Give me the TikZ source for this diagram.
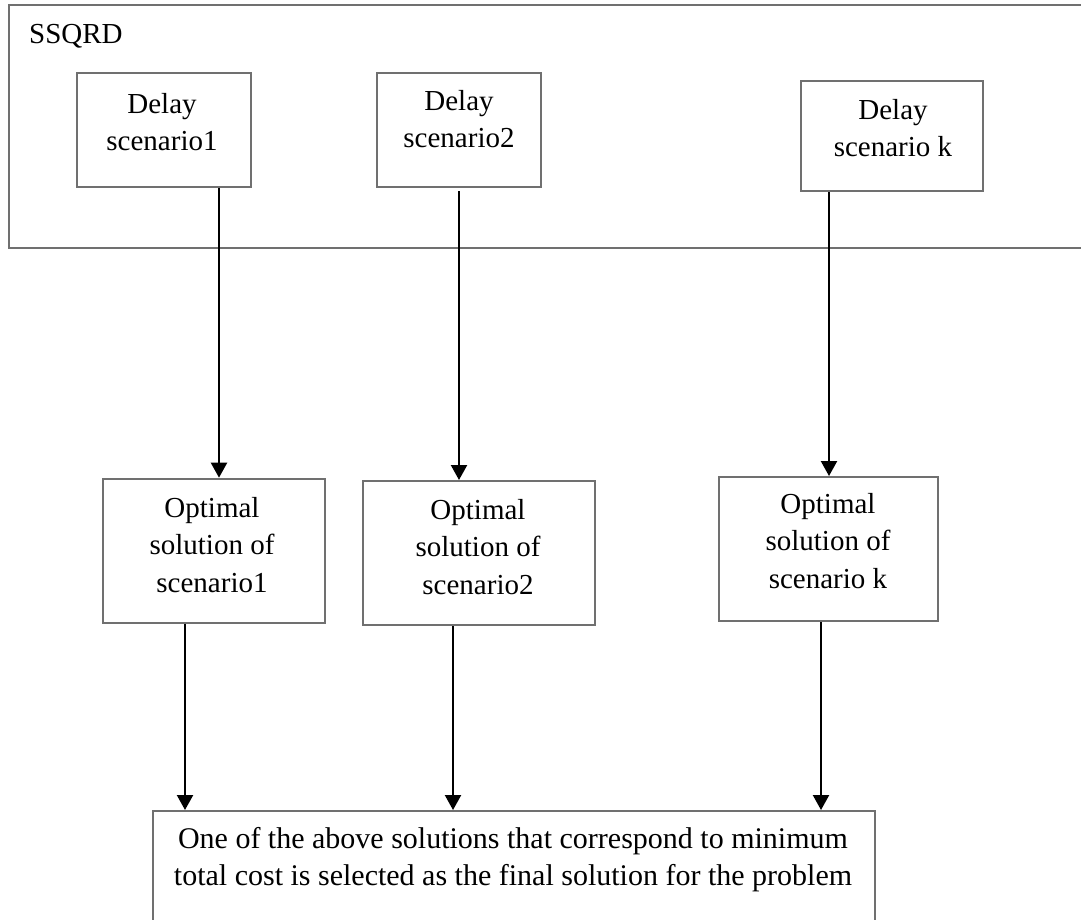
\documentclass[tikz,border=0pt]{standalone}
\usepackage{fontspec}
\setmainfont{Liberation Serif}
\usetikzlibrary{arrows.meta}
\definecolor{boxgray}{RGB}{112,112,112}
\newcommand\mylines[1]{\begin{tabular}[t]{@{}c@{}}#1\end{tabular}}
\begin{document}
\begin{tikzpicture}[x=1pt,y=-1pt,
  box/.style={draw=boxgray, line width=2pt, inner sep=0pt, fill=none},
  txt/.style={anchor=base, inner sep=0pt, font=\fontsize{29}{37.5}\selectfont},
  bigtxt/.style={txt, font=\fontsize{30}{37.5}\selectfont},
  arr/.style={draw=black, line width=2.2pt, -{Triangle[width=16pt,length=15pt]}}]
\useasboundingbox (0,0) rectangle (1081,919);
\fill[white] (0,0) rectangle (1081,919);
% outer frame
\node[box, minimum width=1091pt, minimum height=243.3pt] (ssqrd) at (554.5,126.4) {};
\node[txt, anchor=base west] (lbl) at (29,43) {SSQRD};
% delay scenario boxes
\node[box, minimum width=174.5pt, minimum height=113.5pt] (d1) at (163.75,129.75) {};
\node[box, minimum width=164pt, minimum height=114pt] (d2) at (459,130) {};
\node[box, minimum width=182pt, minimum height=110pt] (dk) at (892,136) {};
\node[txt] (td1) at (162,113) {\mylines{Delay\\scenario1}};
\node[txt] (td2) at (459,110) {\mylines{Delay\\scenario2}};
\node[txt] (tdk) at (893,119) {\mylines{Delay\\scenario k}};
% optimal solution boxes
\node[box, minimum width=221.6pt, minimum height=144pt] (o1) at (214.2,550.7) {};
\node[box, minimum width=231.6pt, minimum height=144pt] (o2) at (479.2,553) {};
\node[box, minimum width=218.5pt, minimum height=144pt] (ok) at (828.25,549) {};
\node[txt] (to1) at (212,517) {\mylines{Optimal\\solution of\\scenario1}};
\node[txt] (to2) at (478,519) {\mylines{Optimal\\solution of\\scenario2}};
\node[txt] (tok) at (828,513) {\mylines{Optimal\\solution of\\scenario k}};
% final box
\node[box, minimum width=722pt, minimum height=129pt] (fin) at (514,875.5) {};
\node[bigtxt] (tfin) at (513,848) {\mylines{One of the above solutions that correspond to minimum\\total cost is selected as the final solution for the problem}};
% arrows
\draw[arr] (d1.south -| 219,0) -- (o1.north -| 219,0);
\draw[arr] ([yshift=-3pt]d2.south -| 459,0) -- (o2.north -| 459,0);
\draw[arr] (dk.south -| 829,0) -- (ok.north -| 829,0);
\draw[arr] (o1.south -| 185,0) -- (fin.north -| 185,0);
\draw[arr] (o2.south -| 453,0) -- (fin.north -| 453,0);
\draw[arr] (ok.south -| 821,0) -- (fin.north -| 821,0);
\end{tikzpicture}
\end{document}
